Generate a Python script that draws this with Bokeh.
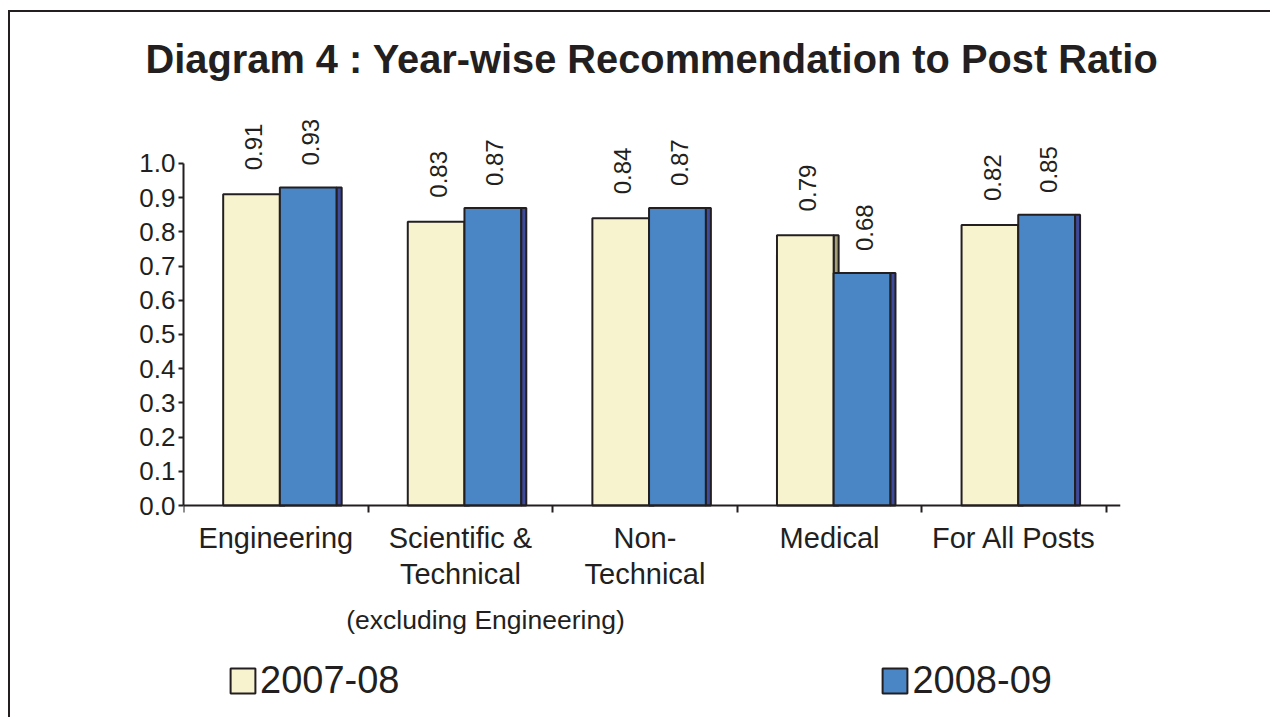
import numpy as np
from bokeh.plotting import figure
from bokeh.models import (Range1d, FixedTicker, ColumnDataSource, LabelSet, Label,
                          Legend, LegendItem)
from bokeh.core.properties import value
from bokeh.embed import file_html
from bokeh.resources import INLINE

categories = ["Engineering", "Scientific &\nTechnical", "Non-\nTechnical", "Medical", "For All Posts"]
series_names = ["2007-08", "2008-09"]
v0708 = [0.91, 0.83, 0.84, 0.79, 0.82]
v0809 = [0.93, 0.87, 0.87, 0.68, 0.85]
y_ticks = [0.0, 0.1, 0.2, 0.3, 0.4, 0.5, 0.6, 0.7, 0.8, 0.9, 1.0]
title_text = "Diagram 4 : Year-wise Recommendation to Post Ratio"
note_text = "(excluding Engineering)"

FONT = "Liberation Sans"
DARK = "#231f20"
YEL = "#f8f3cf"
YEL_SIDE = "#a59f75"
BLUE = "#4a86c6"
BLUE_SIDE = "#3e4a9a"

W, H = 1262, 707
p = figure(width=W, height=H, output_backend="svg", toolbar_location=None,
           x_range=Range1d(0, 5.076), y_range=Range1d(-0.6257, 1.1988),
           min_border_left=173, min_border_right=152, min_border_top=83,
           min_border_bottom=0)
p.margin = (10, 0, 0, 8)
p.styles = {"border-left": "2px solid #231f20", "border-top": "2px solid #231f20"}
p.outline_line_color = None
p.xgrid.visible = False
p.ygrid.visible = False
p.background_fill_color = "white"
p.border_fill_color = "white"

p.title.text = title_text
p.title.align = "center"
p.title.text_font = FONT
p.title.text_font_size = "39.8px"
p.title.text_font_style = "bold"
p.title.text_color = DARK
p.title.standoff = 29

n = len(categories)
centers = np.arange(n) + 0.5

src = ColumnDataSource(dict(
    yx=centers - 0.1315, yx_side=centers + 0.0355,
    bx=centers + 0.176, bx_side=centers + 0.3435,
    v1=v0708, v2=v0809,
    t1=[f"{v:.2f}" for v in v0708], t2=[f"{v:.2f}" for v in v0809],
    l1=[v + 0.07 for v in v0708], l2=[v + 0.064 for v in v0809],
    lx1=centers - 0.12, lx2=centers + 0.187,
))

p.vbar(x="yx_side", top="v1", bottom=0, width=0.027, source=src,
       fill_color=YEL_SIDE, line_color=DARK, line_width=2)
r1 = p.vbar(x="yx", top="v1", bottom=0, width=0.307, source=src,
            fill_color=YEL, line_color=DARK, line_width=2)
r2 = p.vbar(x="bx", top="v2", bottom=0, width=0.308, source=src,
            fill_color=BLUE, line_color=DARK, line_width=2)
p.vbar(x="bx_side", top="v2", bottom=0, width=0.027, source=src,
       fill_color=BLUE_SIDE, line_color=DARK, line_width=2)

for xcol, ycol, tcol in (("lx1", "l1", "t1"), ("lx2", "l2", "t2")):
    p.add_layout(LabelSet(x=xcol, y=ycol, text=tcol, source=src, angle=np.pi / 2,
                          text_align="left", text_baseline="middle",
                          text_font=value(FONT), text_font_size="24px",
                          text_color=DARK))

# axes
ya = p.yaxis[0]
ya.ticker = FixedTicker(ticks=y_ticks)
ya.major_label_overrides = {t: f"{t:.1f}" for t in y_ticks}
ya.bounds = (0, 1.0)
ya.major_tick_in = 0
ya.major_tick_out = 5
ya.minor_tick_out = 0
ya.minor_tick_in = 0
ya.major_label_standoff = 3
ya.major_label_text_font = FONT
ya.major_label_text_font_size = "26px"
ya.major_label_text_color = DARK
ya.axis_line_color = DARK
ya.axis_line_width = 2
ya.major_tick_line_color = DARK
ya.major_tick_line_width = 2

xa = p.xaxis[0]
xa.fixed_location = 0
xa.ticker = FixedTicker(ticks=list(centers), minor_ticks=list(range(n + 1)))
xa.major_label_overrides = {float(c): lab for c, lab in zip(centers, categories)}
xa.major_tick_in = 0
xa.major_tick_out = 0
xa.minor_tick_in = 0
xa.minor_tick_out = 7
xa.minor_tick_line_color = DARK
xa.minor_tick_line_width = 2
xa.major_label_standoff = 9
xa.major_label_text_font = FONT
xa.major_label_text_font_size = "29px"
xa.major_label_text_color = DARK
xa.major_label_text_line_height = 1.15
xa.axis_line_color = DARK
xa.axis_line_width = 2

# note under the category labels
p.add_layout(Label(x=302, y=100, x_units="screen", y_units="screen", text=note_text,
                   text_align="center", text_baseline="alphabetic", text_font=FONT,
                   text_font_size="26.5px", text_color=DARK))

# legend
legend = Legend(items=[LegendItem(label=series_names[0], renderers=[r1]),
                       LegendItem(label=series_names[1], renderers=[r2])],
                orientation="horizontal", location=(44, 17), spacing=480,
                padding=0, margin=0, border_line_color=None,
                background_fill_alpha=0, glyph_width=31, glyph_height=31,
                label_standoff=2, label_text_font=FONT, label_text_font_size="38px",
                label_text_color=DARK)
p.add_layout(legend, "center")

open("out.html", "w").write(file_html(p, INLINE))
